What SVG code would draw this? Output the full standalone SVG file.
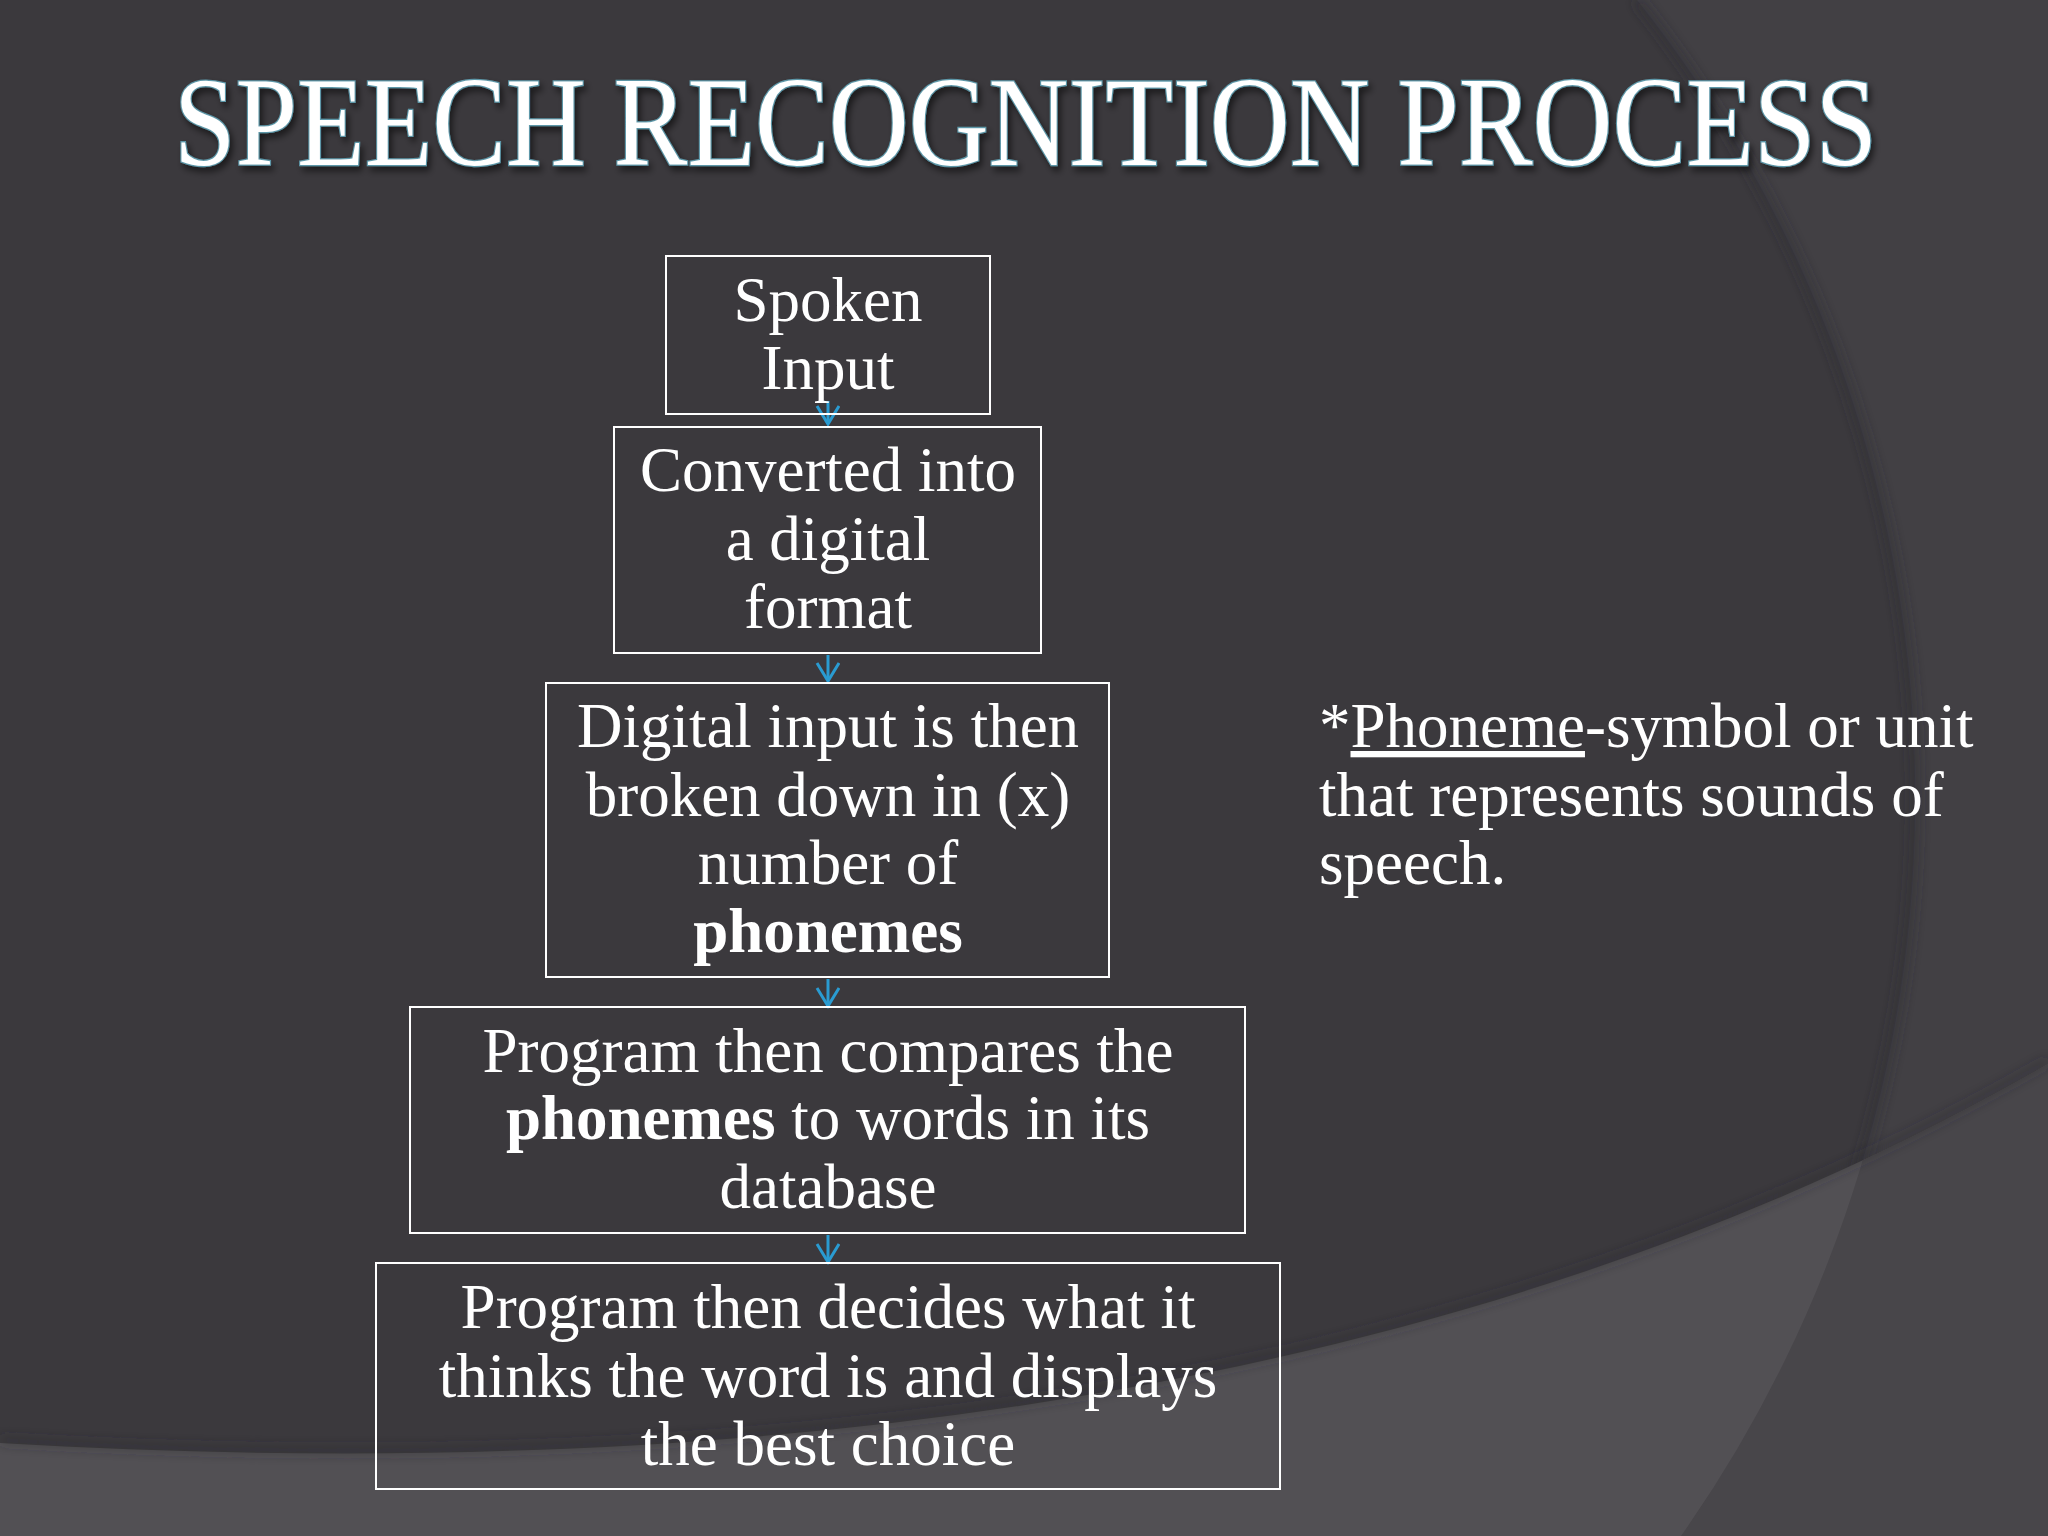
<svg xmlns="http://www.w3.org/2000/svg" width="2048" height="1536" viewBox="0 0 2048 1536">
  <defs>
    <style>
      .box { fill: none; stroke: #ffffff; stroke-width: 2; }
      .t { font-family: "Liberation Serif", "DejaVu Serif", serif; font-size: 63px; fill: #ffffff; }
      .c { text-anchor: middle; }
      .b { font-weight: bold; }
      .conn { stroke: #2a9bd1; stroke-width: 3; fill: none; marker-end: url(#arr); }
    </style>
    <marker id="arr" markerUnits="userSpaceOnUse" markerWidth="26" markerHeight="26" viewBox="0 0 26 26" refX="20" refY="12" orient="auto">
      <path d="M2,1 L20,12 L2,23" fill="none" stroke="#2a9bd1" stroke-width="3"/>
    </marker>
    <filter id="shadow" x="-5%" y="-40%" width="110%" height="180%">
      <feDropShadow dx="3" dy="4" stdDeviation="3" flood-color="#000000" flood-opacity="0.55"/>
    </filter>
    <filter id="blur6" filterUnits="userSpaceOnUse" x="0" y="0" width="2048" height="1536"><feGaussianBlur stdDeviation="6"/></filter>
    <clipPath id="rightArc">
      <path d="M2048,0 L1637,0 A1282,1282 0 0 1 1681,1536 L2048,1536 Z"/>
    </clipPath>
  </defs>

  <!-- background -->
  <rect x="0" y="0" width="2048" height="1536" fill="#3b393d"/>
  <path d="M2048,0 L1637,0 A1282,1282 0 0 1 1681,1536 L2048,1536 Z" fill="#424044"/>
  <path d="M1637,0 A1282,1282 0 0 1 1681,1536" fill="none" stroke="#2e2c30" stroke-width="8" stroke-opacity="0.6" filter="url(#blur6)"/>
  <path d="M0,1443 C800,1490 1500,1380 2048,1064 L2048,1536 L0,1536 Z" fill="#525054"/>
  <path d="M0,1443 C800,1490 1500,1380 2048,1064 L2048,1536 L0,1536 Z" fill="#48464a" clip-path="url(#rightArc)"/>
  <path d="M0,1440 C800,1487 1500,1377 2048,1061" fill="none" stroke="#2e2c30" stroke-width="6" stroke-opacity="0.5" filter="url(#blur6)"/>

  <!-- title -->
  <g id="title">
    <text transform="translate(174,165) scale(1,1.16)" x="0" y="0" textLength="1703" lengthAdjust="spacingAndGlyphs" font-family="'Liberation Serif', serif" font-size="109" fill="#ffffff" stroke="#5d97a8" stroke-width="2.2" paint-order="stroke" filter="url(#shadow)">SPEECH RECOGNITION PROCESS</text>
  </g>

  <!-- connectors -->
  <g id="connectors">
    <path class="conn" d="M828,401 L828,424"/>
    <path class="conn" d="M828,655 L828,681"/>
    <path class="conn" d="M828,979 L828,1006"/>
    <path class="conn" d="M828,1235 L828,1262"/>
  </g>

  <g id="node-spoken-input">
    <rect class="box" x="666" y="256" width="324" height="158"/>
    <text class="t c" x="828" y="321">Spoken</text>
    <text class="t c" x="828" y="389">Input</text>
  </g>

  <g id="node-converted">
    <rect class="box" x="614" y="427" width="427" height="226"/>
    <text class="t c" x="828" y="491">Converted into</text>
    <text class="t c" x="828" y="560">a digital</text>
    <text class="t c" x="828" y="628">format</text>
  </g>

  <g id="node-digital-input">
    <rect class="box" x="546" y="683" width="563" height="294"/>
    <text class="t c" x="828" y="747">Digital input is then</text>
    <text class="t c" x="828" y="816">broken down in (x)</text>
    <text class="t c" x="828" y="884">number of</text>
    <text class="t c b" x="828" y="952">phonemes</text>
  </g>

  <g id="node-compare">
    <rect class="box" x="410" y="1007" width="835" height="226"/>
    <text class="t c" x="828" y="1072">Program then compares the</text>
    <text class="t c" x="828" y="1139"><tspan class="b">phonemes</tspan> to words in its</text>
    <text class="t c" x="828" y="1208">database</text>
  </g>

  <g id="node-decide">
    <rect class="box" x="376" y="1263" width="904" height="226"/>
    <text class="t c" x="828" y="1328">Program then decides what it</text>
    <text class="t c" x="828" y="1397">thinks the word is and displays</text>
    <text class="t c" x="828" y="1465">the best choice</text>
  </g>

  <g id="note">
    <text class="t" x="1319" y="747">*<tspan text-decoration="underline">Phoneme</tspan>-symbol or unit</text>
    <text class="t" x="1319" y="816">that represents sounds of</text>
    <text class="t" x="1319" y="884">speech.</text>
  </g>
</svg>
